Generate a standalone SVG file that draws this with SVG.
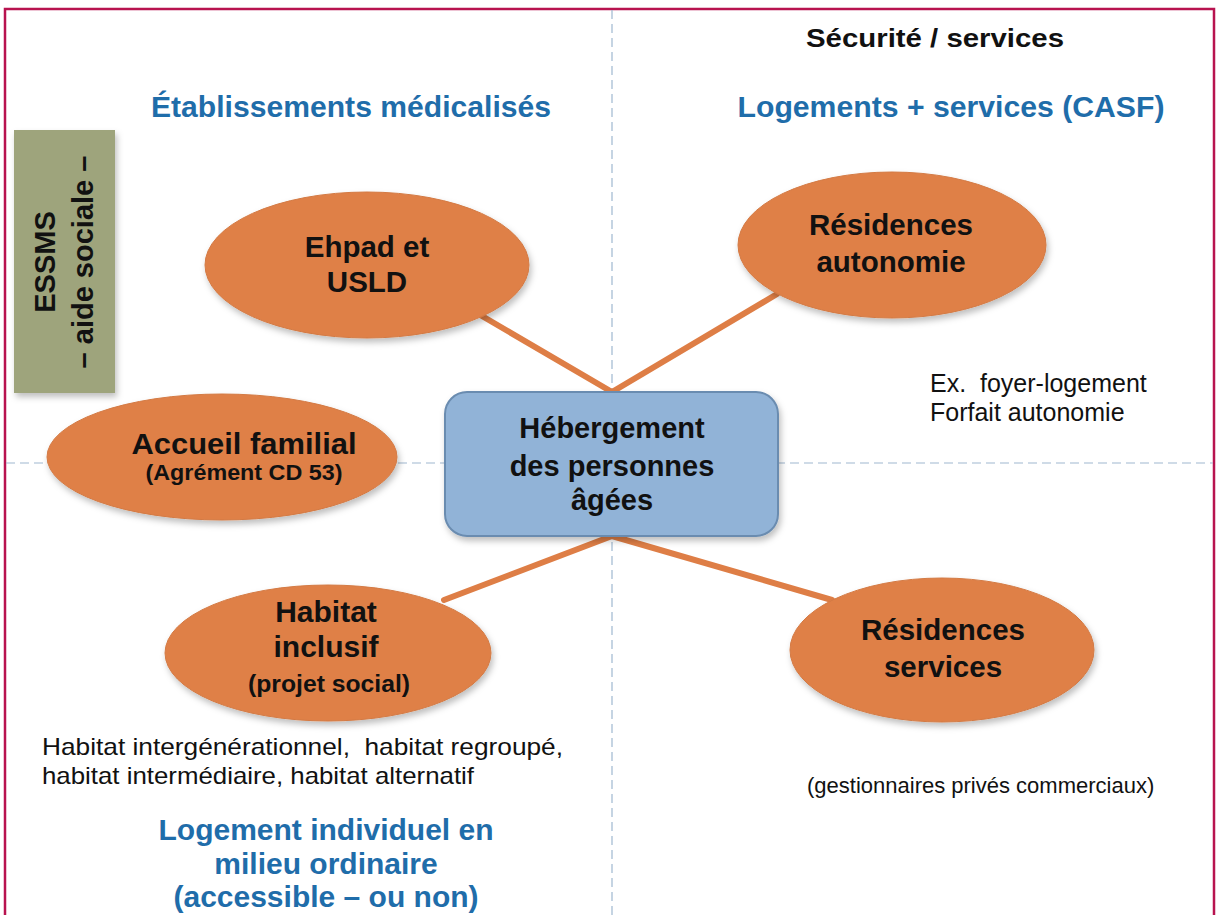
<svg xmlns="http://www.w3.org/2000/svg" width="1218" height="915" viewBox="0 0 1218 915">
  <defs>
    <filter id="sh" x="-20%" y="-20%" width="140%" height="150%">
      <feDropShadow dx="2" dy="4" stdDeviation="3" flood-color="#000" flood-opacity="0.25"/>
    </filter>
    <style>
      .bg{fill:#fff}
      .frame{fill:none;stroke:#B8134F;stroke-width:2.5}
      .axis{fill:none;stroke:#9FB8D0;stroke-width:1.2;stroke-dasharray:9 5}
      .ell{fill:#DF8047;stroke:#D37A44;stroke-width:1;filter:url(#sh)}
      .hub{fill:#91B3D7;stroke:#6A8CB0;stroke-width:2;filter:url(#sh)}
      .green{fill:#9EA47C;filter:url(#sh)}
      .conn{stroke:#DE7E46;stroke-width:6;stroke-linecap:round;fill:none}
      .b{font-family:"Liberation Sans",Arial,sans-serif;font-weight:bold;fill:#111;text-anchor:middle}
      .t{font-family:"Liberation Sans",Arial,sans-serif;fill:#111}
      .blue{fill:#1F6DAA}
    </style>
  </defs>
  <rect class="bg" x="0" y="0" width="1218" height="915"/>
  <rect class="frame" x="5" y="9" width="1209" height="930"/>
  <g id="axes">
    <line class="axis" x1="612" y1="10" x2="612" y2="915"/>
    <line class="axis" x1="6" y1="463" x2="1213" y2="463"/>
  </g>

  <g id="titles">
    <text class="b" x="935" y="47" font-size="26" textLength="258" lengthAdjust="spacingAndGlyphs">Sécurité / services</text>
    <text class="b blue" x="351" y="117" font-size="29" textLength="400" lengthAdjust="spacingAndGlyphs">Établissements médicalisés</text>
    <text class="b blue" x="951" y="117" font-size="29" textLength="427" lengthAdjust="spacingAndGlyphs">Logements + services (CASF)</text>
  </g>

  <g id="essms">
    <rect class="green" x="14" y="130" width="101" height="263"/>
    <text class="b" transform="translate(55,262) rotate(-90)" font-size="29">ESSMS</text>
    <text class="b" transform="translate(93,262) rotate(-90)" font-size="29">– aide sociale –</text>
  </g>

  <g id="connectors">
    <line class="conn" x1="482" y1="316" x2="612" y2="392"/>
    <line class="conn" x1="777" y1="294" x2="612" y2="392"/>
    <line class="conn" x1="612" y1="536" x2="444" y2="600"/>
    <line class="conn" x1="612" y1="536" x2="832" y2="600"/>
  </g>

  <g id="ehpad">
    <ellipse class="ell" cx="367" cy="265" rx="162" ry="73"/>
    <text class="b" x="367" y="257" font-size="29.5">Ehpad et</text>
    <text class="b" x="367" y="292" font-size="29.5">USLD</text>
  </g>

  <g id="res-autonomie">
    <ellipse class="ell" cx="892" cy="245" rx="154" ry="73"/>
    <text class="b" x="891" y="235" font-size="29.5">Résidences</text>
    <text class="b" x="891" y="272" font-size="29.5">autonomie</text>
  </g>

  <g id="accueil">
    <ellipse class="ell" cx="222" cy="457" rx="175" ry="63"/>
    <text class="b" x="244" y="454" font-size="29" textLength="225" lengthAdjust="spacingAndGlyphs">Accueil familial</text>
    <text class="b" x="244" y="480" font-size="22" textLength="197" lengthAdjust="spacingAndGlyphs">(Agrément CD 53)</text>
  </g>

  <g id="hub">
    <rect class="hub" x="445" y="392" width="333" height="144" rx="22"/>
    <text class="b" x="612" y="438" font-size="29">Hébergement</text>
    <text class="b" x="612" y="476" font-size="29">des personnes</text>
    <text class="b" x="612" y="510" font-size="29">âgées</text>
  </g>

  <g id="habitat">
    <ellipse class="ell" cx="328" cy="653" rx="163" ry="68"/>
    <text class="b" x="326" y="622" font-size="30">Habitat</text>
    <text class="b" x="326" y="657" font-size="30">inclusif</text>
    <text class="b" x="329" y="692" font-size="23" textLength="162" lengthAdjust="spacingAndGlyphs">(projet social)</text>
  </g>

  <g id="res-services">
    <ellipse class="ell" cx="942" cy="650" rx="152" ry="72"/>
    <text class="b" x="943" y="640" font-size="29.5">Résidences</text>
    <text class="b" x="943" y="677" font-size="29.5">services</text>
  </g>

  <g id="notes">
    <text class="t" x="930" y="392" font-size="25" xml:space="preserve">Ex.  foyer-logement</text>
    <text class="t" x="930" y="421" font-size="25">Forfait autonomie</text>
    <text class="t" x="42" y="755" font-size="24" xml:space="preserve" textLength="521" lengthAdjust="spacingAndGlyphs">Habitat intergénérationnel,  habitat regroupé,</text>
    <text class="t" x="42" y="784" font-size="24" textLength="432" lengthAdjust="spacingAndGlyphs">habitat intermédiaire, habitat alternatif</text>
    <text class="t" x="807" y="793" font-size="22">(gestionnaires privés commerciaux)</text>
  </g>

  <g id="logement">
    <text class="b blue" x="326" y="840" font-size="30">Logement individuel en</text>
    <text class="b blue" x="326" y="874" font-size="30">milieu ordinaire</text>
    <text class="b blue" x="326" y="907" font-size="30">(accessible – ou non)</text>
  </g>
</svg>
